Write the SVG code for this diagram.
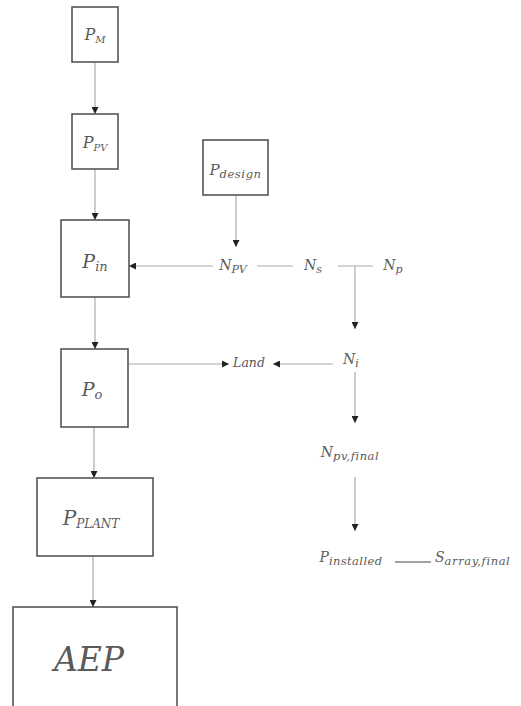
<svg xmlns="http://www.w3.org/2000/svg" width="521" height="706" viewBox="0 0 521 706">
<style>
.box{fill:#fff;stroke:#555;stroke-width:1.6}
.ln{stroke:#aaa;stroke-width:1.2;fill:none}
.t{font-family:"DejaVu Serif","Liberation Serif",serif;font-style:italic;fill:#5a5a5a}
</style>
<defs>
<marker id="ah" viewBox="0 0 10 10" refX="10" refY="5" markerWidth="7" markerHeight="7" markerUnits="userSpaceOnUse" orient="auto">
<path d="M0,0 L10,5 L0,10 z" fill="#222"/>
</marker>
</defs>
<g id="connectors">
<line class="ln" x1="95" y1="62" x2="95" y2="114" marker-end="url(#ah)"/>
<line class="ln" x1="95" y1="169" x2="95" y2="220" marker-end="url(#ah)"/>
<line class="ln" x1="236" y1="195" x2="236" y2="247" marker-end="url(#ah)"/>
<line class="ln" x1="213" y1="266" x2="129" y2="266" marker-end="url(#ah)"/>
<line class="ln" x1="257" y1="266" x2="293" y2="266"/>
<line class="ln" x1="338" y1="266" x2="373" y2="266"/>
<line class="ln" x1="355" y1="266" x2="355" y2="329" marker-end="url(#ah)"/>
<line class="ln" x1="95" y1="297" x2="95" y2="349" marker-end="url(#ah)"/>
<line class="ln" x1="128" y1="364" x2="229" y2="364" marker-end="url(#ah)"/>
<line class="ln" x1="333" y1="364" x2="273" y2="364" marker-end="url(#ah)"/>
<line class="ln" x1="355" y1="372" x2="355" y2="423" marker-end="url(#ah)"/>
<line class="ln" x1="355" y1="477" x2="355" y2="531" marker-end="url(#ah)"/>
<line class="ln" x1="395" y1="562" x2="431" y2="562" style="stroke:#444"/>
<line class="ln" x1="94" y1="427" x2="94" y2="478" marker-end="url(#ah)"/>
<line class="ln" x1="93" y1="556" x2="93" y2="607" marker-end="url(#ah)"/>
</g>
<g id="PM"><rect class="box" x="72" y="7" width="46" height="55"/>
<text class="t" x="95" y="40" text-anchor="middle" font-size="16">P<tspan font-size="10" dy="3">M</tspan></text></g>
<g id="PPV"><rect class="box" x="72" y="114" width="46" height="55"/>
<text class="t" x="95" y="148" text-anchor="middle" font-size="16">P<tspan font-size="10" dy="3">PV</tspan></text></g>
<g id="Pdesign"><rect class="box" x="203" y="140" width="65" height="55"/>
<text class="t" x="235.5" y="175" text-anchor="middle" font-size="15">P<tspan font-size="11.5" dy="3" letter-spacing="0.6">design</tspan></text></g>
<g id="Pin"><rect class="box" x="61" y="220" width="68" height="77"/>
<text class="t" x="95" y="268" text-anchor="middle" font-size="19">P<tspan font-size="13" dy="3">in</tspan></text></g>
<g id="Po"><rect class="box" x="61" y="349" width="67" height="78"/>
<text class="t" x="92" y="396" text-anchor="middle" font-size="19">P<tspan font-size="13" dy="3">o</tspan></text></g>
<g id="PPLANT"><rect class="box" x="37" y="478" width="116" height="78"/>
<text class="t" x="91" y="525" text-anchor="middle" font-size="20">P<tspan font-size="12" dy="3">PLANT</tspan></text></g>
<g id="AEP"><rect class="box" x="13" y="607" width="164" height="110"/>
<text class="t" x="89" y="671" text-anchor="middle" font-size="33">AEP</text></g>
<g id="Npv"><text class="t" x="233" y="270" text-anchor="middle" font-size="14">N<tspan font-size="11" dy="3">PV</tspan></text></g>
<g id="Ns"><text class="t" x="313" y="270" text-anchor="middle" font-size="14">N<tspan font-size="11" dy="3">s</tspan></text></g>
<g id="Np"><text class="t" x="393" y="270" text-anchor="middle" font-size="14">N<tspan font-size="11" dy="3">p</tspan></text></g>
<g id="Ni"><text class="t" x="351" y="364" text-anchor="middle" font-size="14">N<tspan font-size="11" dy="3">i</tspan></text></g>
<g id="Land"><text class="t" x="249" y="367" text-anchor="middle" font-size="12.5">Land</text></g>
<g id="Npvfinal"><text class="t" x="350" y="457" text-anchor="middle" font-size="14">N<tspan font-size="11.5" dy="3" letter-spacing="0.5">pv,final</tspan></text></g>
<g id="Pinstalled"><text class="t" x="351" y="562" text-anchor="middle" font-size="14">P<tspan font-size="11.5" dy="3" letter-spacing="0.4">installed</tspan></text></g>
<g id="Sarray"><text class="t" x="435" y="562" font-size="14">S<tspan font-size="11.5" dy="3" letter-spacing="0.6">array,final</tspan></text></g>
</svg>
